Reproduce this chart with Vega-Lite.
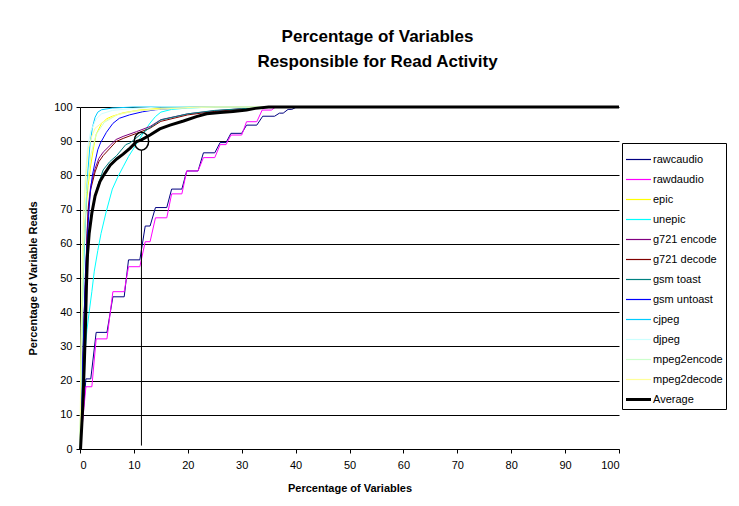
{
  "$schema": "https://vega.github.io/schema/vega-lite/v6.json",
  "autosize": "none",
  "width": 539,
  "height": 342,
  "padding": {"left": 80, "top": 107, "right": 120, "bottom": 57},
  "background": "white",
  "config": {
    "font": "Liberation Sans",
    "view": {"stroke": null},
    "axis": {"labelFont": "Liberation Sans", "labelFontSize": 11, "labelColor": "black", "titleFont": "Liberation Sans", "titleFontSize": 11, "titleFontWeight": "bold", "titleColor": "black", "domainColor": "black", "tickColor": "black", "tickSize": 4, "labelOverlap": false},
    "legend": {"labelFont": "Liberation Sans", "labelFontSize": 11, "labelColor": "black"}
  },
  "title": {
    "text": ["Percentage of Variables", "Responsible for Read Activity"],
    "fontSize": 17, "fontWeight": "bold", "font": "Liberation Sans", "color": "black",
    "lineHeight": 25, "offset": 30, "dx": 28, "anchor": "middle"
  },
  "data": {"values": [
    {"s":"rawcaudio","x":0,"y":0},{"s":"rawcaudio","x":1.1,"y":20.5},{"s":"rawcaudio","x":2.0,"y":20.5},{"s":"rawcaudio","x":3.0,"y":34.1},{"s":"rawcaudio","x":5.0,"y":34.1},{"s":"rawcaudio","x":6.1,"y":44.5},{"s":"rawcaudio","x":8.2,"y":44.5},{"s":"rawcaudio","x":9.0,"y":55.3},{"s":"rawcaudio","x":11.1,"y":55.3},{"s":"rawcaudio","x":12.1,"y":65.2},{"s":"rawcaudio","x":13.0,"y":65.2},{"s":"rawcaudio","x":14.0,"y":70.6},{"s":"rawcaudio","x":16.1,"y":70.6},{"s":"rawcaudio","x":17.0,"y":76.0},{"s":"rawcaudio","x":18.9,"y":76.0},{"s":"rawcaudio","x":19.8,"y":81.3},{"s":"rawcaudio","x":21.9,"y":81.3},{"s":"rawcaudio","x":22.9,"y":86.6},{"s":"rawcaudio","x":25.0,"y":86.6},{"s":"rawcaudio","x":26.0,"y":89.6},{"s":"rawcaudio","x":27.1,"y":89.6},{"s":"rawcaudio","x":28.0,"y":92.3},{"s":"rawcaudio","x":30.0,"y":92.3},{"s":"rawcaudio","x":30.9,"y":94.7},{"s":"rawcaudio","x":32.8,"y":94.7},{"s":"rawcaudio","x":33.9,"y":97.3},{"s":"rawcaudio","x":36.1,"y":97.3},{"s":"rawcaudio","x":37.0,"y":98.2},{"s":"rawcaudio","x":37.7,"y":98.2},{"s":"rawcaudio","x":38.6,"y":99.3},{"s":"rawcaudio","x":39.3,"y":99.3},{"s":"rawcaudio","x":40.2,"y":100},{"s":"rawcaudio","x":100,"y":100},
    {"s":"rawdaudio","x":0,"y":0},{"s":"rawdaudio","x":1.1,"y":18.2},{"s":"rawdaudio","x":2.2,"y":18.2},{"s":"rawdaudio","x":3.0,"y":32.2},{"s":"rawdaudio","x":5.0,"y":32.2},{"s":"rawdaudio","x":6.1,"y":46.0},{"s":"rawdaudio","x":8.2,"y":46.0},{"s":"rawdaudio","x":9.0,"y":53.3},{"s":"rawdaudio","x":11.1,"y":53.3},{"s":"rawdaudio","x":12.1,"y":60.6},{"s":"rawdaudio","x":13.0,"y":60.6},{"s":"rawdaudio","x":14.0,"y":67.6},{"s":"rawdaudio","x":16.1,"y":67.6},{"s":"rawdaudio","x":17.0,"y":74.6},{"s":"rawdaudio","x":18.9,"y":74.6},{"s":"rawdaudio","x":19.8,"y":81.3},{"s":"rawdaudio","x":21.9,"y":81.3},{"s":"rawdaudio","x":22.9,"y":85.2},{"s":"rawdaudio","x":25.0,"y":85.2},{"s":"rawdaudio","x":26.0,"y":89.0},{"s":"rawdaudio","x":27.1,"y":89.0},{"s":"rawdaudio","x":28.0,"y":91.8},{"s":"rawdaudio","x":30.0,"y":91.8},{"s":"rawdaudio","x":30.9,"y":95.7},{"s":"rawdaudio","x":32.8,"y":95.7},{"s":"rawdaudio","x":33.8,"y":99.1},{"s":"rawdaudio","x":35.5,"y":99.1},{"s":"rawdaudio","x":36.3,"y":100},{"s":"rawdaudio","x":100,"y":100},
    {"s":"epic","x":0,"y":0},{"s":"epic","x":0.3,"y":30},{"s":"epic","x":0.6,"y":55},{"s":"epic","x":1.0,"y":68},{"s":"epic","x":1.5,"y":77},{"s":"epic","x":2.0,"y":83},{"s":"epic","x":2.5,"y":88},{"s":"epic","x":3.0,"y":92},{"s":"epic","x":4.0,"y":95.2},{"s":"epic","x":5.0,"y":96.6},{"s":"epic","x":6.0,"y":97.3},{"s":"epic","x":8.0,"y":98.3},{"s":"epic","x":11.0,"y":99.1},{"s":"epic","x":15.0,"y":99.6},{"s":"epic","x":20.0,"y":100},{"s":"epic","x":100,"y":100},
    {"s":"unepic","x":0,"y":0},{"s":"unepic","x":0.4,"y":12},{"s":"unepic","x":0.8,"y":26},{"s":"unepic","x":1.3,"y":35},{"s":"unepic","x":1.7,"y":40},{"s":"unepic","x":2.2,"y":46},{"s":"unepic","x":2.65,"y":52},{"s":"unepic","x":3.3,"y":58},{"s":"unepic","x":3.9,"y":63},{"s":"unepic","x":4.8,"y":69},{"s":"unepic","x":6.0,"y":76},{"s":"unepic","x":7.0,"y":79.5},{"s":"unepic","x":8.0,"y":82.5},{"s":"unepic","x":9.0,"y":85.5},{"s":"unepic","x":10.0,"y":88},{"s":"unepic","x":11.0,"y":90.5},{"s":"unepic","x":12.0,"y":93},{"s":"unepic","x":13.0,"y":95.3},{"s":"unepic","x":14.0,"y":97.2},{"s":"unepic","x":15.0,"y":98.5},{"s":"unepic","x":17.0,"y":99.3},{"s":"unepic","x":20.0,"y":99.7},{"s":"unepic","x":25.0,"y":100},{"s":"unepic","x":100,"y":100},
    {"s":"g721 encode","x":0,"y":0},{"s":"g721 encode","x":0.4,"y":21},{"s":"g721 encode","x":0.8,"y":41},{"s":"g721 encode","x":1.1,"y":53},{"s":"g721 encode","x":1.3,"y":63},{"s":"g721 encode","x":1.55,"y":71},{"s":"g721 encode","x":2.0,"y":77},{"s":"g721 encode","x":2.8,"y":82},{"s":"g721 encode","x":3.5,"y":85},{"s":"g721 encode","x":4.3,"y":86.8},{"s":"g721 encode","x":5.6,"y":88.8},{"s":"g721 encode","x":6.7,"y":90.5},{"s":"g721 encode","x":8.0,"y":91.4},{"s":"g721 encode","x":10.5,"y":92.8},{"s":"g721 encode","x":13.0,"y":94.3},{"s":"g721 encode","x":15.0,"y":96.3},{"s":"g721 encode","x":20.0,"y":98},{"s":"g721 encode","x":25.0,"y":98.9},{"s":"g721 encode","x":30.0,"y":99.5},{"s":"g721 encode","x":35.0,"y":100},{"s":"g721 encode","x":100,"y":100},
    {"s":"g721 decode","x":0,"y":0},{"s":"g721 decode","x":0.4,"y":20},{"s":"g721 decode","x":0.8,"y":40},{"s":"g721 decode","x":1.1,"y":52},{"s":"g721 decode","x":1.3,"y":62},{"s":"g721 decode","x":1.55,"y":70},{"s":"g721 decode","x":2.0,"y":76},{"s":"g721 decode","x":2.8,"y":81},{"s":"g721 decode","x":3.5,"y":84},{"s":"g721 decode","x":4.3,"y":85.8},{"s":"g721 decode","x":5.6,"y":88},{"s":"g721 decode","x":6.7,"y":89.9},{"s":"g721 decode","x":8.0,"y":90.8},{"s":"g721 decode","x":10.5,"y":92.3},{"s":"g721 decode","x":13.0,"y":93.8},{"s":"g721 decode","x":15.0,"y":95.8},{"s":"g721 decode","x":20.0,"y":97.7},{"s":"g721 decode","x":25.0,"y":98.7},{"s":"g721 decode","x":30.0,"y":99.4},{"s":"g721 decode","x":35.0,"y":100},{"s":"g721 decode","x":100,"y":100},
    {"s":"gsm toast","x":0,"y":0},{"s":"gsm toast","x":0.4,"y":18},{"s":"gsm toast","x":0.8,"y":36},{"s":"gsm toast","x":1.1,"y":48},{"s":"gsm toast","x":1.4,"y":58},{"s":"gsm toast","x":1.85,"y":66},{"s":"gsm toast","x":2.5,"y":72},{"s":"gsm toast","x":3.3,"y":77},{"s":"gsm toast","x":4.3,"y":81.6},{"s":"gsm toast","x":5.5,"y":84},{"s":"gsm toast","x":6.8,"y":85.8},{"s":"gsm toast","x":8.5,"y":89},{"s":"gsm toast","x":9.3,"y":89.5},{"s":"gsm toast","x":11.1,"y":91.8},{"s":"gsm toast","x":13.0,"y":94},{"s":"gsm toast","x":15.0,"y":96.2},{"s":"gsm toast","x":20.0,"y":98},{"s":"gsm toast","x":25.0,"y":99},{"s":"gsm toast","x":30.0,"y":99.5},{"s":"gsm toast","x":35.0,"y":100},{"s":"gsm toast","x":100,"y":100},
    {"s":"gsm untoast","x":0,"y":0},{"s":"gsm untoast","x":0.4,"y":20},{"s":"gsm untoast","x":0.8,"y":40},{"s":"gsm untoast","x":1.0,"y":51},{"s":"gsm untoast","x":1.3,"y":60},{"s":"gsm untoast","x":1.6,"y":68},{"s":"gsm untoast","x":1.9,"y":75},{"s":"gsm untoast","x":2.3,"y":80},{"s":"gsm untoast","x":2.8,"y":84},{"s":"gsm untoast","x":3.3,"y":87.5},{"s":"gsm untoast","x":3.8,"y":89.5},{"s":"gsm untoast","x":4.9,"y":92.6},{"s":"gsm untoast","x":6.1,"y":95.2},{"s":"gsm untoast","x":7.3,"y":96.7},{"s":"gsm untoast","x":9.2,"y":97.7},{"s":"gsm untoast","x":11.6,"y":98.6},{"s":"gsm untoast","x":14.0,"y":99.2},{"s":"gsm untoast","x":18.0,"y":99.7},{"s":"gsm untoast","x":22.0,"y":100},{"s":"gsm untoast","x":100,"y":100},
    {"s":"cjpeg","x":0,"y":0},{"s":"cjpeg","x":0.2,"y":20},{"s":"cjpeg","x":0.5,"y":45},{"s":"cjpeg","x":0.93,"y":64.5},{"s":"cjpeg","x":1.4,"y":80},{"s":"cjpeg","x":1.85,"y":88.9},{"s":"cjpeg","x":2.3,"y":94},{"s":"cjpeg","x":2.8,"y":97},{"s":"cjpeg","x":3.3,"y":98.5},{"s":"cjpeg","x":4.0,"y":99.2},{"s":"cjpeg","x":6.0,"y":99.7},{"s":"cjpeg","x":10.0,"y":100},{"s":"cjpeg","x":100,"y":100},
    {"s":"djpeg","x":0,"y":0},{"s":"djpeg","x":0.2,"y":30},{"s":"djpeg","x":0.5,"y":60},{"s":"djpeg","x":0.9,"y":78},{"s":"djpeg","x":1.4,"y":88},{"s":"djpeg","x":2.0,"y":93},{"s":"djpeg","x":3.0,"y":96.5},{"s":"djpeg","x":4.0,"y":98},{"s":"djpeg","x":6.0,"y":99},{"s":"djpeg","x":10.0,"y":99.6},{"s":"djpeg","x":15.0,"y":100},{"s":"djpeg","x":100,"y":100},
    {"s":"mpeg2encode","x":0,"y":0},{"s":"mpeg2encode","x":0.3,"y":30},{"s":"mpeg2encode","x":0.7,"y":58},{"s":"mpeg2encode","x":1.2,"y":75},{"s":"mpeg2encode","x":2.0,"y":86},{"s":"mpeg2encode","x":3.0,"y":92},{"s":"mpeg2encode","x":4.5,"y":95.5},{"s":"mpeg2encode","x":7.0,"y":97.8},{"s":"mpeg2encode","x":10.0,"y":98.8},{"s":"mpeg2encode","x":15.0,"y":99.4},{"s":"mpeg2encode","x":25.0,"y":100},{"s":"mpeg2encode","x":100,"y":100},
    {"s":"mpeg2decode","x":0,"y":0},{"s":"mpeg2decode","x":0.2,"y":35},{"s":"mpeg2decode","x":0.5,"y":60},{"s":"mpeg2decode","x":0.8,"y":72},{"s":"mpeg2decode","x":1.2,"y":82},{"s":"mpeg2decode","x":1.55,"y":88},{"s":"mpeg2decode","x":2.2,"y":91.5},{"s":"mpeg2decode","x":2.8,"y":93.8},{"s":"mpeg2decode","x":4.3,"y":95.7},{"s":"mpeg2decode","x":6.8,"y":97.7},{"s":"mpeg2decode","x":10.0,"y":98.8},{"s":"mpeg2decode","x":15.0,"y":99.4},{"s":"mpeg2decode","x":22.0,"y":100},{"s":"mpeg2decode","x":100,"y":100},
    {"s":"Average","x":0.1,"y":0},{"s":"Average","x":0.5,"y":12},{"s":"Average","x":0.8,"y":25},{"s":"Average","x":1.0,"y":35},{"s":"Average","x":1.2,"y":48},{"s":"Average","x":1.4,"y":57},{"s":"Average","x":1.7,"y":63},{"s":"Average","x":2.2,"y":69},{"s":"Average","x":2.8,"y":74},{"s":"Average","x":3.7,"y":78.2},{"s":"Average","x":4.6,"y":80.6},{"s":"Average","x":5.6,"y":83},{"s":"Average","x":6.8,"y":84.8},{"s":"Average","x":8.0,"y":86.2},{"s":"Average","x":9.3,"y":88},{"s":"Average","x":10.5,"y":89.9},{"s":"Average","x":11.4,"y":90.4},{"s":"Average","x":13.0,"y":91.8},{"s":"Average","x":14.8,"y":93.6},{"s":"Average","x":16.7,"y":94.7},{"s":"Average","x":19.2,"y":95.9},{"s":"Average","x":21.6,"y":97.2},{"s":"Average","x":23.5,"y":98},{"s":"Average","x":26.0,"y":98.4},{"s":"Average","x":28.4,"y":98.7},{"s":"Average","x":30.9,"y":99.1},{"s":"Average","x":32.5,"y":99.6},{"s":"Average","x":35.0,"y":100},{"s":"Average","x":100,"y":100}
  ]},
  "encoding": {
    "x": {"field": "x", "type": "quantitative", "scale": {"domain": [0, 100], "nice": false}, "axis": {"values": [0,10,20,30,40,50,60,70,80,90,100], "grid": false, "title": "Percentage of Variables", "labelPadding": 6, "titlePadding": 12}},
    "y": {"field": "y", "type": "quantitative", "scale": {"domain": [0, 100], "nice": false}, "axis": {"values": [0,10,20,30,40,50,60,70,80,90,100], "grid": true, "gridColor": "black", "gridOpacity": 1, "gridWidth": 1, "title": "Percentage of Variable Reads", "labelPadding": 4, "titlePadding": 15}},
    "color": {"field": "s", "type": "nominal", "scale": {"domain": ["rawcaudio","rawdaudio","epic","unepic","g721 encode","g721 decode","gsm toast","gsm untoast","cjpeg","djpeg","mpeg2encode","mpeg2decode","Average"], "range": ["#000080","#FF00FF","#FFFF00","#00FFFF","#800080","#800000","#008080","#0000FF","#00CCFF","#CCFFFF","#CCFFCC","#FFFF99","#000000"]},
      "legend": {"title": null, "orient": "none", "legendX": 542, "legendY": 36, "symbolType": "stroke", "symbolSize": 625, "strokeColor": "black", "fillColor": "white", "padding": 3, "rowPadding": 1, "labelOffset": 1,
        "encode": {"symbols": {"update": {"strokeWidth": {"signal": "(datum.value === 'Average' ? 3 : 1.2)"}}}}}}
  },
  "layer": [
    {
      "transform": [{"filter": "datum.s !== 'Average'"}],
      "mark": {"type": "line", "interpolate": "linear", "strokeWidth": 1}
    },
    {
      "transform": [{"filter": "datum.s === 'Average'"}],
      "mark": {"type": "line", "interpolate": "linear", "strokeWidth": 3}
    },
    {
      "data": {"values": [{"x": 11.4, "y": 1, "y2": 87.4}]},
      "mark": {"type": "rule", "color": "black", "strokeWidth": 1},
      "encoding": {"color": {"value": "black"}, "y2": {"field": "y2"}}
    },
    {
      "data": {"values": [{"x": 11.4, "y": 90}]},
      "mark": {"type": "point", "filled": false, "strokeWidth": 1.5, "opacity": 1, "size": 324, "shape": "M-0.8,0A0.8,1,0,1,0,0.8,0A0.8,1,0,1,0,-0.8,0Z"},
      "encoding": {"color": {"value": "black"}}
    }
  ]
}
